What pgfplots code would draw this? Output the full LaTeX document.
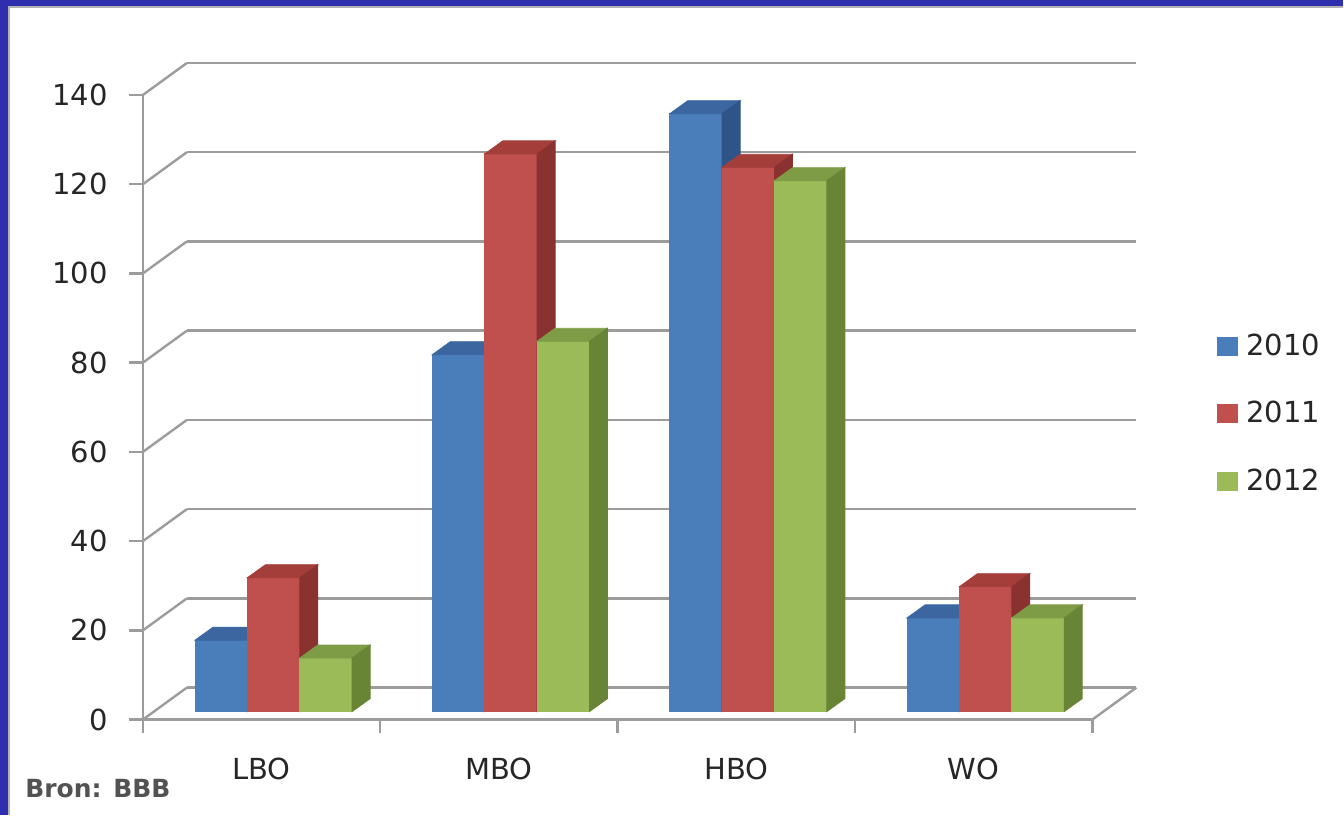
\documentclass[border=0pt]{standalone}
\usepackage{pgfplots}
\pgfplotsset{compat=1.18}
\usepackage{fontspec}
\setmainfont{DejaVu Sans}

\definecolor{c2010}{HTML}{4A7EBB}
\definecolor{c2010top}{HTML}{3B66A0}
\definecolor{c2010side}{HTML}{2F5487}
\definecolor{c2011}{HTML}{C0504D}
\definecolor{c2011top}{HTML}{A33E3B}
\definecolor{c2011side}{HTML}{8A3230}
\definecolor{c2012}{HTML}{9BBB59}
\definecolor{c2012top}{HTML}{7E9C45}
\definecolor{c2012side}{HTML}{688536}
\definecolor{gridgray}{HTML}{9C9C9C}
\definecolor{slideblue}{HTML}{2E2EAE}

% pt per unit on the y axis: 312.5pt / 140
\newcommand\yunit{2.2321429}

% 3D column: #1 x offset of the front face (pt), #2 front, #3 top, #4 side colour
\pgfplotsset{
  cube bar/.style n args={4}{%
    only marks, forget plot,
    mark=*, mark size=0pt, mark options={draw=none, fill=none},
    scatter,
    visualization depends on={rawy \as \barval},
    scatter/@pre marker code/.code={%
      \pgfmathsetmacro\barh{\barval*\yunit}%
      \pgfmathsetmacro\xl{#1-13.1}%
      \pgfmathsetmacro\xr{#1+13.1}%
      \pgfmathsetmacro\xls{\xl+9}%
      \pgfmathsetmacro\xrs{\xr+9}%
      \pgfmathsetmacro\yb{4-\barh}%
      \pgfmathsetmacro\ybs{10.5-\barh}%
      \fill[#2] (\xl pt,\yb pt) rectangle (\xr pt,4pt);
      \fill[#3] (\xl pt,4pt) -- (\xr pt,4pt) -- (\xrs pt,10.5pt) -- (\xls pt,10.5pt) -- cycle;
      \fill[#4] (\xr pt,4pt) -- (\xrs pt,10.5pt) -- (\xrs pt,\ybs pt) -- (\xr pt,\yb pt) -- cycle;
    },
    scatter/@post marker code/.code={},
  },
}

\begin{document}
\begin{tikzpicture}[x=1pt,y=1pt]
  \fill[slideblue] (0,0) rectangle (672,407.5);
  \fill[white] (4.5,0) rectangle (672,404);
  \draw[gray!60, line width=0.8pt] (4.5,0) -- (4.5,404) -- (672,404);
  \path[use as bounding box] (0,0) rectangle (672,407.5);

  \begin{axis}[
    at={(71.5pt,47.5pt)}, anchor=south west,
    scale only axis, width=475pt, height=312.5pt,
    xmin=-0.5, xmax=3.5, ymin=0, ymax=140,
    clip=false,
    axis x line*=bottom, axis y line*=left,
    axis line style={gridgray, line width=1.2pt},
    ytick={0,20,...,140},
    xtick={0,1,2,3}, xticklabels={LBO,MBO,HBO,WO},
    minor xtick={-0.5,0.5,1.5,2.5,3.5},
    tick align=outside,
    major tick length=7pt, minor tick length=6.5pt,
    major x tick style={draw=none},
    minor x tick style={gridgray, line width=1.2pt},
    major y tick style={gridgray, line width=1.2pt},
    ymajorgrids,
    major grid style={gridgray, line width=1.2pt, shift={(22pt,16pt)}},
    tick label style={font=\fontsize{14.5}{17}\selectfont, text=black!85},
    yticklabel style={xshift=-7pt},
    xticklabel style={yshift=-8.5pt},
    /pgf/number format/assume math mode=true,
    legend style={at={(rel axis cs:1.1243,0.4898)}, anchor=west, draw=none, fill=none,
      font=\fontsize{14.5}{17}\selectfont, text=black!85, row sep=17.5pt,
      /tikz/every odd column/.append style={column sep=2.5pt}},
    legend cell align=left,
    legend image code/.code={\fill[#1] (0pt,-4.5pt) rectangle (10pt,4.5pt);},
  ]
    % connectors from the front axis to the back wall
    \pgfplotsinvokeforeach{0,20,...,140}{
      \draw[gridgray, line width=1.2pt] (axis cs:-0.5,#1) -- ++(22pt,16pt);
    }
    \draw[gridgray, line width=1.2pt] (axis cs:3.5,0) -- ++(22pt,16pt);

    \addplot[cube bar={-20.2}{c2010}{c2010top}{c2010side}]
      coordinates {(0,16) (1,80) (2,134) (3,21)};
    \addplot[cube bar={6}{c2011}{c2011top}{c2011side}]
      coordinates {(0,30) (1,125) (2,122) (3,28)};
    \addplot[cube bar={32.2}{c2012}{c2012top}{c2012side}]
      coordinates {(0,12) (1,83) (2,119) (3,21)};

    \addlegendimage{c2010}
    \addlegendentry{2010}
    \addlegendimage{c2011}
    \addlegendentry{2011}
    \addlegendimage{c2012}
    \addlegendentry{2012}
  \end{axis}

  \node[anchor=base west, inner sep=0pt, text=black!68,
        font=\fontsize{12.5}{15}\selectfont\bfseries] at (12.5,8.5) {Bron: BBB};
\end{tikzpicture}
\end{document}
